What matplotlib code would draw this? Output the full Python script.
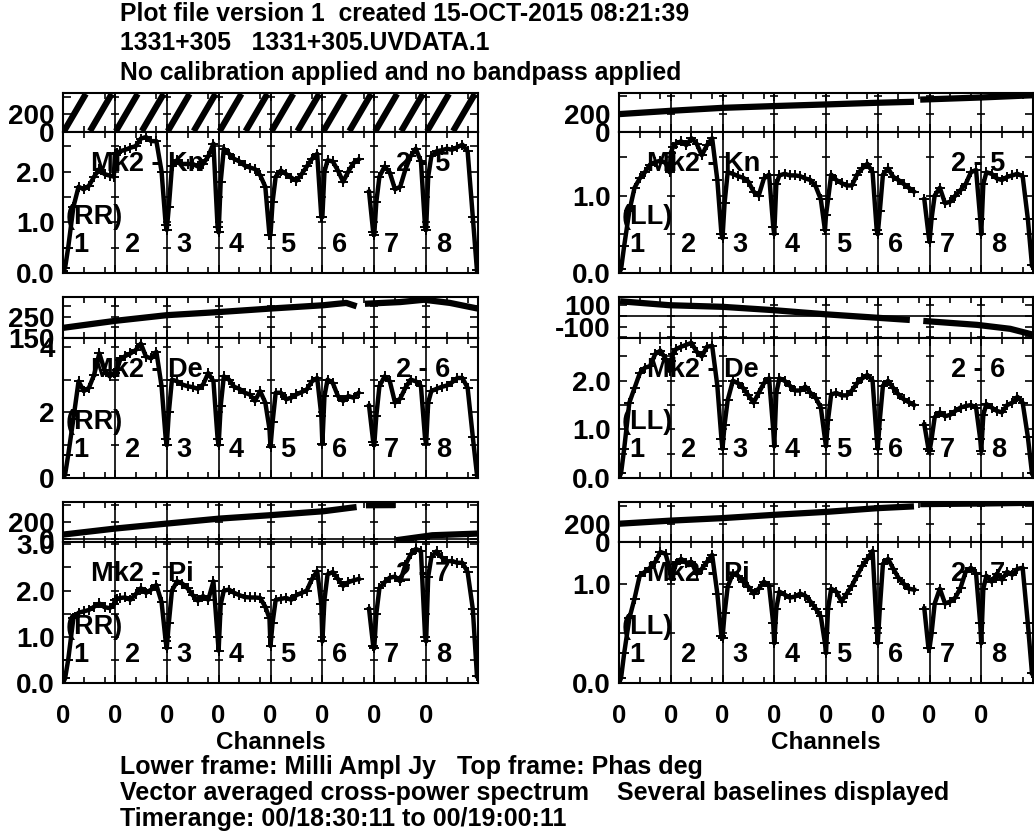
import numpy as np
import matplotlib.pyplot as plt
import matplotlib.transforms as mtransforms

plt.rcParams['font.family'] = ['Liberation Sans', 'DejaVu Sans']
plt.rcParams['font.weight'] = 'bold'
plt.rcParams['axes.labelweight'] = 'bold'
plt.rcParams['font.size'] = 20

# --- channel layout: 8 IFs of 50 channels, amplitude read at these offsets
N_IF = 8
NCHAN = 50
chan_off = [0, 2, 5, 10, 15, 20, 25, 30, 35, 40, 45, 49]
nan = np.nan

# --- amplitudes (milli Jy), 12 readings per IF, IF1..IF8
amp_kn_rr = [0.03, 0.1, 0.5, 1.3, 1.7, 1.65, 1.72, 1.9, 2.05, 1.95, 1.92, 1.9,
             2.35, 2.37, 2.4, 2.43, 2.47, 2.5, 2.65, 2.68, 2.6, 2.6, 2.0, 0.95,
             0.85, 1.3, 2.1, 2.22, 2.15, 2.15, 2.15, 2.1, 2.15, 2.3, 2.55, 0.9,
             0.8, 1.8, 2.45, 2.35, 2.25, 2.2, 2.12, 2.08, 2.05, 1.93, 1.7, 0.75,
             0.75, 1.4, 1.9, 2.02, 1.95, 1.88, 1.82, 1.95, 2.1, 2.25, 2.35, 1.1,
             1.1, 2.0, 2.22, 2.2, 2.02, 1.8, 2.0, 2.17, 2.24, nan, 1.6, 0.8,
             0.75, 1.4, 1.9, 2.1, 1.98, 1.65, 1.7, 2.04, 2.3, 2.45, 2.2, 0.9,
             0.85, 1.9, 2.3, 2.4, 2.42, 2.45, 2.43, 2.48, 2.53, 2.4, 1.1, 0.05]
amp_kn_ll = [0.0, 0.05, 0.35, 0.8, 1.1, 1.22, 1.3, 1.4, 1.43, 1.45, 1.42, 1.3,
             1.55, 1.62, 1.67, 1.7, 1.65, 1.74, 1.67, 1.52, 1.65, 1.74, 1.2, 0.5,
             0.45, 0.9, 1.3, 1.28, 1.25, 1.23, 1.18, 1.05, 1.0, 1.22, 1.27, 0.6,
             0.5, 1.15, 1.26, 1.28, 1.26, 1.26, 1.25, 1.22, 1.2, 1.12, 0.95, 0.55,
             0.75, 0.95, 1.27, 1.2, 1.16, 1.13, 1.13, 1.27, 1.35, 1.41, 1.3, 0.55,
             0.5, 0.8, 1.27, 1.35, 1.24, 1.2, 1.15, 1.1, 1.05, nan, 0.95, 0.5,
             0.4, 0.7, 1.0, 1.1, 0.9, 0.92, 1.0, 1.07, 1.15, 1.3, 1.33, 0.7,
             0.5, 1.15, 1.3, 1.28, 1.22, 1.2, 1.24, 1.26, 1.28, 1.25, 0.7, 0.1]
amp_de_rr = [0.0, 0.1, 0.7, 1.8, 2.95, 2.65, 2.75, 3.15, 3.8, 3.3, 3.1, 3.2,
             3.2, 3.3, 3.6, 3.72, 3.8, 3.9, 4.1, 3.7, 3.65, 3.85, 2.8, 1.2,
             1.0, 2.0, 3.0, 2.95, 2.85, 2.8, 2.77, 2.72, 2.85, 3.2, 2.95, 1.2,
             1.0, 2.2, 3.1, 3.0, 2.78, 2.72, 2.6, 2.55, 2.35, 2.65, 2.3, 1.5,
             0.95, 1.7, 2.6, 2.6, 2.4, 2.45, 2.55, 2.62, 2.7, 2.95, 3.05, 1.9,
             1.05, 2.5, 3.0, 2.9, 2.5, 2.35, 2.5, 2.45, 2.6, nan, 2.2, 1.1,
             1.0, 1.9, 2.8, 3.1, 2.95, 2.3, 2.42, 2.75, 3.0, 2.95, 2.8, 1.2,
             1.05, 2.3, 2.65, 2.72, 2.78, 2.82, 2.92, 3.05, 3.05, 2.75, 1.25, 0.1]
amp_de_ll = [0.0, 0.1, 0.6, 1.55, 1.85, 2.15, 2.27, 2.3, 2.55, 2.62, 2.45, 2.2,
             2.4, 2.55, 2.65, 2.7, 2.74, 2.78, 2.6, 2.5, 2.7, 2.72, 1.9, 0.8,
             0.6, 1.1, 1.6, 2.0, 1.95, 1.85, 1.7, 1.55, 1.75, 1.95, 2.05, 1.0,
             0.65, 1.75, 2.05, 2.0, 1.9, 1.8, 1.8, 1.88, 1.75, 1.65, 1.45, 0.8,
             0.65, 1.2, 1.72, 1.75, 1.7, 1.7, 1.8, 1.95, 2.05, 2.12, 2.0, 0.8,
             0.6, 1.2, 1.9, 2.0, 1.85, 1.72, 1.62, 1.56, 1.5, nan, 1.1, 0.6,
             0.55, 0.8, 1.25, 1.35, 1.27, 1.3, 1.38, 1.45, 1.48, 1.5, 1.45, 0.8,
             0.55, 1.3, 1.52, 1.45, 1.38, 1.35, 1.5, 1.55, 1.67, 1.55, 0.85, 0.1]
amp_pi_rr = [0.0, 0.1, 0.5, 1.4, 1.52, 1.55, 1.58, 1.65, 1.72, 1.64, 1.62, 1.7,
             1.8, 1.82, 1.84, 1.85, 1.8, 1.92, 2.05, 1.95, 2.02, 2.12, 1.75, 0.9,
             0.75, 1.3, 2.0, 2.2, 2.15, 2.05, 1.9, 1.78, 1.88, 1.8, 2.2, 1.0,
             0.7, 1.7, 2.0, 2.02, 1.95, 1.9, 1.86, 1.85, 1.85, 1.84, 1.65, 1.4,
             0.8, 1.3, 1.8, 1.82, 1.84, 1.8, 1.9, 1.95, 2.0, 2.25, 2.42, 1.7,
             0.9, 1.8, 2.35, 2.4, 2.25, 2.1, 2.18, 2.22, 2.25, nan, 1.6, 0.8,
             0.75, 1.5, 2.05, 2.18, 2.28, 2.3, 2.2, 2.55, 2.78, 2.9, 2.85, 1.0,
             0.9, 2.3, 2.72, 2.85, 2.72, 2.63, 2.64, 2.6, 2.6, 2.4, 1.6, 0.15]
amp_pi_ll = [0.0, 0.05, 0.3, 0.65, 0.85, 1.08, 1.12, 1.16, 1.22, 1.32, 1.3, 1.15,
             1.05, 1.1, 1.2, 1.25, 1.21, 1.22, 1.1, 1.15, 1.22, 1.29, 0.9, 0.47,
             0.45, 0.7, 0.97, 1.1, 1.08, 1.02, 0.97, 0.9, 0.95, 1.02, 0.98, 0.6,
             0.4, 0.75, 0.92, 0.89, 0.86, 0.87, 0.9, 0.88, 0.82, 0.75, 0.67, 0.4,
             0.3, 0.75, 0.95, 0.92, 0.82, 0.9, 0.98, 1.08, 1.18, 1.25, 1.33, 0.55,
             0.4, 0.75, 1.2, 1.25, 1.15, 1.06, 1.0, 0.95, 0.94, nan, 0.75, 0.35,
             0.35, 0.5, 0.8, 0.95, 0.8, 0.82, 0.86, 0.96, 1.12, 1.16, 1.1, 0.6,
             0.4, 0.95, 1.08, 1.02, 1.1, 1.04, 1.12, 1.09, 1.15, 1.16, 0.6, 0.1]

# --- phases (deg) read at the listed channels
ph_kn_rr_ch = [1, 22, 26, 47, 51, 72, 76, 97, 101, 122, 126, 147, 151, 172, 176, 197,
               201, 222, 226, 247, 251, 272, 276, 297, 301, 322, 326, 347, 351, 372, 376, 397]
ph_kn_rr = [10, 430, 10, 430, 10, 430, 10, 430, 10, 430, 10, 430, 10, 430, 10, 430,
            10, 430, 10, 430, 10, 430, 10, 430, 10, 430, 10, 430, 10, 430, 10, 430]
ph_kn_ll_ch = [0, 50, 100, 150, 200, 250, 285, nan, 291, 350, 400]
ph_kn_ll = [200, 237, 270, 290, 308, 327, 338, nan, 362, 386, 411]
ph_de_rr_ch = [0, 50, 100, 151, 199, 251, 273, 283, nan, 291, 325, 348, 373, 400]
ph_de_rr = [198, 231, 258, 273, 289, 305, 316, 300, nan, 312, 320, 331, 316, 289]
ph_de_ll_ch = [1, 49, 100, 149, 201, 249, 281, nan, 294, 346, 378, 400]
ph_de_ll = [138, 101, 86, 55, 15, -16, -37, nan, -46, -83, -120, -175]
ph_pi_rr_ch = [0, 50, 100, 151, 199, 251, 283, nan, 292, 320, 321, 356, 400]
ph_pi_rr = [48, 120, 180, 240, 280, 328, 379, nan, 400, 402, -20, 40, 60]
ph_pi_ll_ch = [0, 50, 100, 150, 200, 250, 285, nan, 291, 350, 400]
ph_pi_ll = [205, 240, 268, 305, 338, 380, 400, nan, 425, 432, 440]

if_labels = ['1', '2', '3', '4', '5', '6', '7', '8']

panels = [
    dict(amp=amp_kn_rr, pch=ph_kn_rr_ch, ph=ph_kn_rr, name='Mk2 - Kn', bl='2 - 5', pol='(RR)',
         col=0, row=0, plim=(0, 440), pt=[0, 200, 400], ptl=['0', '200', ''],
         alim=(0, 2.78), at=[0, 0.5, 1, 1.5, 2, 2.5], atl=['0.0', '', '1.0', '', '2.0', ''], zero=False),
    dict(amp=amp_kn_ll, pch=ph_kn_ll_ch, ph=ph_kn_ll, name='Mk2 - Kn', bl='2 - 5', pol='(LL)',
         col=1, row=0, plim=(0, 436), pt=[0, 200, 400], ptl=['0', '200', ''],
         alim=(0, 1.82), at=[0, 0.5, 1, 1.5], atl=['0.0', '', '1.0', ''], zero=False),
    dict(amp=amp_de_rr, pch=ph_de_rr_ch, ph=ph_de_rr, name='Mk2 - De', bl='2 - 6', pol='(RR)',
         col=0, row=1, plim=(150, 344), pt=[150, 200, 250, 300], ptl=['150', '', '250', ''],
         alim=(0, 4.27), at=[0, 1, 2, 3, 4], atl=['0', '', '2', '', '4'], zero=False),
    dict(amp=amp_de_ll, pch=ph_de_ll_ch, ph=ph_de_ll, name='Mk2 - De', bl='2 - 6', pol='(LL)',
         col=1, row=1, plim=(-206, 178), pt=[-200, -100, 0, 100], ptl=['', '-100', '', '100'],
         alim=(0, 2.88), at=[0, 0.5, 1, 1.5, 2, 2.5], atl=['0.0', '', '1.0', '', '2.0', ''], zero=True),
    dict(amp=amp_pi_rr, pch=ph_pi_rr_ch, ph=ph_pi_rr, name='Mk2 - Pi', bl='2 - 7', pol='(RR)',
         col=0, row=2, plim=(-41, 439), pt=[0, 200, 400], ptl=['0', '200', ''],
         alim=(0, 3.05), at=[0, 0.5, 1, 1.5, 2, 2.5, 3], atl=['0.0', '', '1.0', '', '2.0', '', '3.0'], zero=True),
    dict(amp=amp_pi_ll, pch=ph_pi_ll_ch, ph=ph_pi_ll, name='Mk2 - Pi', bl='2 - 7', pol='(LL)',
         col=1, row=2, plim=(0, 449), pt=[0, 200, 400], ptl=['0', '200', ''],
         alim=(0, 1.42), at=[0, 0.5, 1], atl=['0.0', '', '1.0'], zero=False),
]

W, H = 1034, 831
col_x = [(63, 478), (619, 1033)]
row_y = [(93, 132, 273), (297, 338, 478), (502, 542, 683)]


def break_wraps(ch, ph):
    # a phase that falls by more than 180 deg has wrapped: lift the pen there
    xs, ys = [ch[0]], [ph[0]]
    for i in range(1, len(ch)):
        if ph[i] - ph[i - 1] < -180:
            xs.append(nan)
            ys.append(nan)
        xs.append(ch[i])
        ys.append(ph[i])
    return xs, ys


def style_frame(ax, yt, ytl):
    ax.set_xlim(0, N_IF * NCHAN)
    ax.set_xticks(np.arange(0, N_IF * NCHAN + 1, NCHAN))
    ax.set_xticks([i * NCHAN + o for i in range(N_IF) for o in (20, 40)], minor=True)
    ax.set_yticks(yt)
    ax.set_yticklabels(ytl)
    ax.tick_params(which='both', direction='in', top=True, right=True, width=1.2, pad=6)
    ax.tick_params(which='major', length=6)
    ax.tick_params(which='minor', length=4)
    for s in ax.spines.values():
        s.set_linewidth(1.5)
    for b in range(NCHAN, N_IF * NCHAN, NCHAN):
        ax.axvline(b, color='k', lw=1.2)
        ax.plot([b] * len(yt), yt, ls='none', marker='_', ms=6, mew=1.2, color='k', clip_on=False)


fig = plt.figure(figsize=(W / 100, H / 100), dpi=100)

amp_ch = [i * NCHAN + o for i in range(N_IF) for o in chan_off]

for p in panels:
    x0, x1 = col_x[p['col']]
    yt_, ym_, yb_ = row_y[p['row']]
    axp = fig.add_axes([x0 / W, 1 - ym_ / H, (x1 - x0) / W, (ym_ - yt_) / H])
    axa = fig.add_axes([x0 / W, 1 - yb_ / H, (x1 - x0) / W, (yb_ - ym_) / H])

    # phase frame
    xs, ys = break_wraps(p['pch'], p['ph'])
    axp.plot(xs, ys, color='k', lw=4.5, solid_capstyle='butt')
    axp.set_ylim(*p['plim'])
    if p['zero']:
        axp.axhline(0, color='k', lw=1.2)
    style_frame(axp, p['pt'], p['ptl'])
    axp.set_xticklabels([])

    # amplitude frame
    axa.plot(amp_ch, p['amp'], color='k', lw=3.2, marker='+', ms=7, mew=1.4)
    axa.set_ylim(*p['alim'])
    style_frame(axa, p['at'], p['atl'])
    axa.set_xticklabels(['0'] * N_IF + [''], fontsize=18.5)
    axa.tick_params(axis='x', which='major', pad=15)

    tr = mtransforms.blended_transform_factory(axa.transData, axa.transAxes)
    axa.text(27, 0.77, p['name'], transform=tr, ha='left', va='center', fontsize=19.5)
    axa.text(321, 0.77, p['bl'], transform=tr, ha='left', va='center', fontsize=19.5)
    axa.text(3, 0.40, p['pol'], transform=tr, ha='left', va='center', fontsize=19.5)
    for i, lab in enumerate(if_labels):
        axa.text(i * NCHAN + 17, 0.2, lab, transform=tr, ha='center', va='center', fontsize=19.5)
    if p['row'] == 2:
        axa.set_xlabel('Channels', labelpad=2, fontsize=17.5)
    else:
        axa.set_xticklabels([])

header = ['Plot file version 1  created 15-OCT-2015 08:21:39',
          '1331+305   1331+305.UVDATA.1',
          'No calibration applied and no bandpass applied']
footer = ['Lower frame: Milli Ampl Jy   Top frame: Phas deg',
          'Vector averaged cross-power spectrum    Several baselines displayed',
          'Timerange: 00/18:30:11 to 00/19:00:11']
for i, t in enumerate(header):
    fig.text(120 / W, 1 - (14 + 29.5 * i) / H, t, ha='left', va='center', fontsize=17.8)
for i, t in enumerate(footer):
    fig.text(120 / W, 1 - (767 + 26 * i) / H, t, ha='left', va='center', fontsize=18)

fig.savefig('out.png', dpi=100)
